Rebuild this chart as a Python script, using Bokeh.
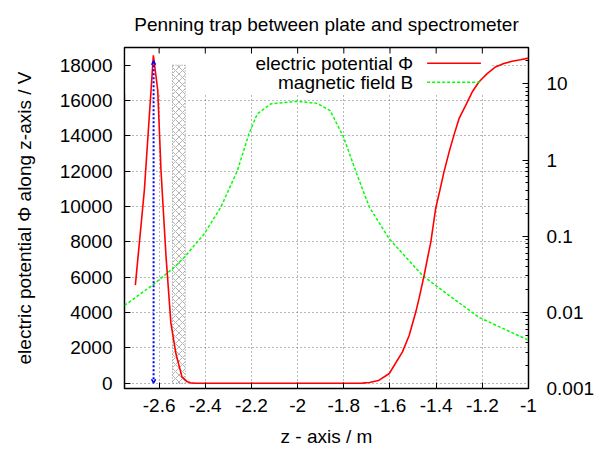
from bokeh.plotting import figure
from bokeh.models import (Range1d, LogScale, LogAxis, FixedTicker,
                          Label, Arrow, OpenHead)
from bokeh.embed import file_html
from bokeh.resources import INLINE

# ---------------- data ----------------
phi_z = [-2.703, -2.664, -2.635, -2.625, -2.606, -2.592, -2.570, -2.549, -2.527,
         -2.501, -2.480, -2.465, -2.44, -2.2, -2.0, -1.8, -1.72,
         -1.689, -1.650, -1.603, -1.546, -1.517, -1.488, -1.474, -1.452, -1.438,
         -1.423, -1.402, -1.384, -1.366, -1.344, -1.323, -1.301, -1.272, -1.244,
         -1.215, -1.179, -1.143, -1.107, -1.071, -1.035, -1.0]
phi_v = [5550, 10920, 16580, 18560, 16580, 12050, 7150, 3400, 1650,
         360, 100, 20, 0, 0, 0, 0, 5,
         40, 150, 550, 1770, 2700, 4040, 4800, 6110, 7040,
         8000, 9900, 10910, 11960, 13080, 14040, 14970, 15730, 16480,
         17050, 17520, 17900, 18090, 18220, 18310, 18400]

b_z = [-2.75, -2.621, -2.534, -2.491, -2.405, -2.333, -2.261, -2.211, -2.175,
       -2.117, -2.003, -1.916, -1.859, -1.801, -1.744, -1.689, -1.603, -1.459,
       -1.402, -1.215, -1.0]
b_t = [0.0123, 0.0237, 0.0391, 0.0528, 0.107, 0.239, 0.726, 2.20, 4.03,
       5.45, 5.89, 5.54, 4.45, 1.99, 0.658, 0.239, 0.092, 0.0304,
       0.0225, 0.0086, 0.0043]

marker_z = [-2.624]          # blue dotted arrow (trap position)
marker_v = [0, 18250]

plate_left = [-2.542]        # hatched electrode
plate_right = [-2.487]
plate_bottom = [0]
plate_top = [18000]

x_ticks = [-2.6, -2.4, -2.2, -2.0, -1.8, -1.6, -1.4, -1.2, -1.0]
x_tick_labels = ["-2.6", "-2.4", "-2.2", "-2", "-1.8", "-1.6", "-1.4", "-1.2", "-1"]
y_ticks = [0, 2000, 4000, 6000, 8000, 10000, 12000, 14000, 16000, 18000]
y2_ticks = [0.001, 0.01, 0.1, 1, 10]
y2_tick_labels = ["0.001", "0.01", "0.1", "1", "10"]

FONT = "Liberation Sans"
FS = "19px"
X0, X1, Y0, Y1 = -2.75, -1.0, -300, 19000

p = figure(width=597, height=450, output_backend="svg", toolbar_location=None,
           x_range=Range1d(X0, X1), y_range=Range1d(Y0, Y1),
           min_border_left=124, min_border_right=68, min_border_top=47,
           min_border_bottom=62, background_fill_color="white",
           border_fill_color="white")
p.outline_line_color = "black"
p.outline_line_width = 1.5

p.title.text = "Penning trap between plate and spectrometer"
p.title.align = "center"
p.title.vertical_align = "top"
p.title.text_font = FONT
p.title.text_font_size = FS
p.title.text_font_style = "normal"
p.title.text_color = "black"
p.title.standoff = 22

p.extra_y_ranges = {"B": Range1d(0.001, 30)}
p.extra_y_scales = {"B": LogScale()}

xt = FixedTicker(ticks=x_ticks)
yt = FixedTicker(ticks=y_ticks)
minor = [m * d for d in [0.001, 0.01, 0.1, 1, 10] for m in range(2, 10)]
y2t = FixedTicker(ticks=y2_ticks, minor_ticks=minor)

def style_axis(ax):
    ax.axis_line_color = None
    ax.major_tick_in = 6
    ax.major_tick_out = 0
    ax.minor_tick_in = 0
    ax.minor_tick_out = 0
    ax.major_tick_line_color = "black"
    ax.major_label_text_font = FONT
    ax.major_label_text_font_size = FS
    ax.major_label_text_color = "black"
    ax.axis_label_text_font = FONT
    ax.axis_label_text_font_size = FS
    ax.axis_label_text_font_style = "normal"
    ax.axis_label_text_color = "black"

xa = p.xaxis[0]
xa.ticker = xt
xa.major_label_overrides = dict(zip(x_ticks, x_tick_labels))
style_axis(xa)
xa.major_label_standoff = 10
xa.axis_label = "z - axis / m"
xa.axis_label_standoff = 11

ya = p.yaxis[0]
ya.ticker = yt
style_axis(ya)
ya.major_label_standoff = 12
ya.axis_label = "electric potential \u03a6 along z-axis / V"
ya.axis_label_standoff = 22

ra = LogAxis(y_range_name="B", ticker=y2t)
style_axis(ra)
ra.minor_tick_in = 3
ra.minor_tick_line_color = "black"
ra.major_label_overrides = dict(zip(y2_ticks, y2_tick_labels))
ra.major_label_standoff = 18
p.add_layout(ra, "right")

p.xgrid.ticker = xt
p.ygrid.ticker = yt
for g in (p.xgrid[0], p.ygrid[0]):
    g.grid_line_color = "#707070"
    g.grid_line_dash = "1 3"
    g.grid_line_width = 1

# opaque key area (hides grid behind the key)
p.quad(left=[-2.745], right=[-1.159], bottom=[16350], top=[18890],
       fill_color="white", line_color=None)

# mirrored ticks on the top border
p.segment(x0=x_ticks, y0=[Y1] * len(x_ticks), x1=x_ticks,
          y1=[Y1 - 340] * len(x_ticks), line_color="black", line_width=1)

# hatched electrode
p.quad(left=plate_left, right=plate_right, bottom=plate_bottom, top=plate_top,
       fill_color="white", hatch_pattern="diagonal_cross", hatch_color="#b4b4b4",
       hatch_scale=7, hatch_weight=1, line_color="#8a8a8a", line_dash="1 2",
       line_width=1)

# data curves
p.line(b_z, b_t, y_range_name="B", line_color="#00ff00", line_width=1.5,
       line_dash="3 2")
p.line(phi_z, phi_v, line_color="#ff0000", line_width=1.6)

# blue dotted arrow
p.add_layout(Arrow(x_start=marker_z[0], y_start=marker_v[0], x_end=marker_z[0],
                   y_end=marker_v[1], line_color="#0000ff", line_width=2,
                   line_dash="2 2",
                   start=OpenHead(size=4, line_color="#0000ff", line_width=1.5),
                   end=OpenHead(size=4, line_color="#0000ff", line_width=1.5)))

# key
key_text_x = -1.4995
key_line_x = [-1.439, -1.206]
p.add_layout(Label(x=key_text_x, y=18105, text="electric potential \u03a6",
                   text_align="right", text_baseline="middle",
                   text_font=FONT, text_font_size=FS, text_color="black"))
p.add_layout(Label(x=key_text_x, y=17030, text="magnetic field B",
                   text_align="right", text_baseline="middle",
                   text_font=FONT, text_font_size=FS, text_color="black"))
p.line(key_line_x, [18105, 18105], line_color="#ff0000", line_width=1.6)
p.line(key_line_x, [17030, 17030], line_color="#00ff00", line_width=1.5,
       line_dash="3 2")

open("out.html", "w").write(file_html(p, INLINE))
